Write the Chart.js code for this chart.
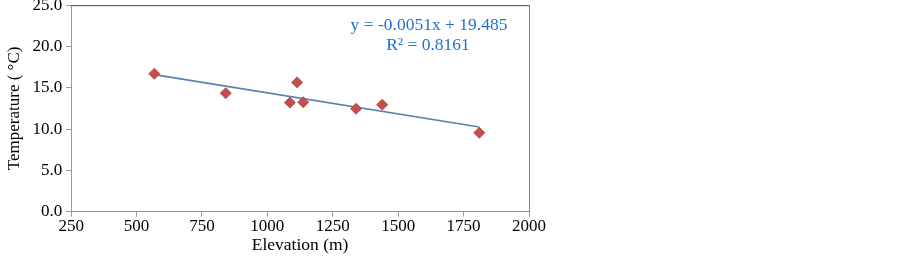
<!DOCTYPE html>
<html>
<head>
<meta charset="utf-8">
<script src="https://cdn.jsdelivr.net/npm/chart.js@4"></script>
<style>
  html, body { margin: 0; padding: 0; background: #fff; overflow: hidden; }
  #wrap { width: 903px; height: 265px; margin-top: -9px; }
</style>
</head>
<body>
<div id="wrap"><canvas id="chartTemp"></canvas></div>
<script>
// Temperatura vs elevación — dispersión con línea de tendencia
const elevacion = [568, 841, 1086, 1114, 1137, 1339, 1439, 1810];
const temperatura = [16.7, 14.35, 13.2, 15.65, 13.25, 12.45, 12.95, 9.55];
const tendenciaX = [568, 1810];
const tendenciaY = [16.59, 10.25];
const ecuacion = ['y = -0.0051x + 19.485', 'R² = 0.8161'];

const serif = "'Liberation Serif', 'Times New Roman', serif";

// marco superior/derecho + texto de la ecuación
const marcoPlugin = {
  id: 'marco',
  afterDraw(chart) {
    const { ctx, chartArea: a } = chart;
    ctx.save();
    ctx.lineWidth = 1;
    ctx.strokeStyle = '#444';
    ctx.beginPath();
    ctx.moveTo(a.left, a.top + 0.5);
    ctx.lineTo(a.right, a.top + 0.5);
    ctx.stroke();
    ctx.strokeStyle = '#808080';
    ctx.beginPath();
    ctx.moveTo(a.right + 0.5, a.top);
    ctx.lineTo(a.right + 0.5, a.bottom);
    ctx.stroke();
    ctx.fillStyle = '#1f70d6';
    ctx.font = '17.5px ' + serif;
    ctx.textAlign = 'center';
    ctx.textBaseline = 'middle';
    // posiciones relativas al lienzo desplazado 9px hacia arriba
    ctx.fillText(ecuacion[0], 429, 34);
    ctx.fillText(ecuacion[1], 428, 54);
    ctx.restore();
  }
};

new Chart(document.getElementById('chartTemp'), {
  type: 'scatter',
  data: {
    datasets: [
      {
        label: 'Tendencia',
        type: 'line',
        data: tendenciaX.map((x, i) => ({ x, y: tendenciaY[i] })),
        borderColor: '#5b7fae',
        borderWidth: 1.6,
        pointRadius: 0,
        fill: false,
        order: 2
      },
      {
        label: 'Temperatura',
        data: elevacion.map((x, i) => ({ x, y: temperatura[i] })),
        pointStyle: 'rectRot',
        pointRadius: 5.5,
        backgroundColor: '#c0504d',
        borderColor: '#c0504d',
        order: 1
      }
    ]
  },
  options: {
    responsive: true,
    maintainAspectRatio: false,
    animation: false,
    layout: { padding: { top: 0, right: 374, left: 4, bottom: 0 } },
    plugins: { legend: { display: false }, tooltip: { enabled: false } },
    scales: {
      x: {
        type: 'linear',
        min: 250, max: 2000,
        ticks: { stepSize: 250, color: '#000', font: { family: serif, size: 17 }, padding: 0,
                 callback: v => String(v) },
        grid: { drawOnChartArea: false, drawTicks: true, tickLength: 5, color: '#999' },
        border: { color: '#999' },
        title: { display: true, text: 'Elevation (m)', color: '#000', font: { family: serif, size: 17.5 }, padding: { top: -2, bottom: 0 } }
      },
      y: {
        min: 0, max: 25,
        ticks: { stepSize: 5, color: '#000', font: { family: serif, size: 17 }, padding: 4,
                 callback: v => v.toFixed(1) },
        grid: { drawOnChartArea: false, drawTicks: true, tickLength: 5, color: '#999' },
        border: { color: '#999' },
        title: { display: true, text: 'Temperature ( °C)', color: '#000', font: { family: serif, size: 17 }, padding: { top: 0, bottom: 4 } }
      }
    }
  },
  plugins: [marcoPlugin]
});
</script>
</body>
</html>
